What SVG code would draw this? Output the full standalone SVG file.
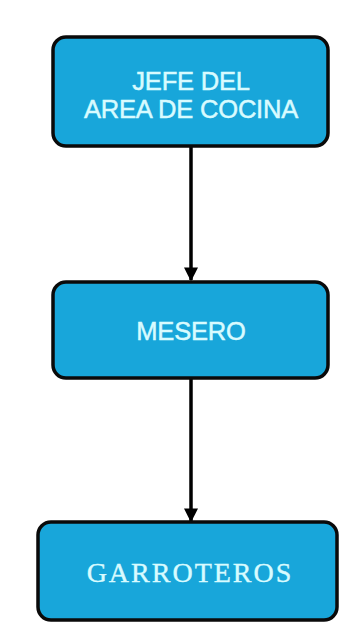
<svg xmlns="http://www.w3.org/2000/svg" width="341" height="641" viewBox="0 0 341 641">
<style>
.box{fill:#18a6da;stroke:#0a0a0a;stroke-width:3.5}
.t{fill:#d8fbff;stroke:#d8fbff;stroke-width:0.5;font-family:"Liberation Sans",Arial,sans-serif;font-size:25.5px;text-anchor:middle;letter-spacing:-0.2px}
.ts{fill:#d8fbff;stroke:#d8fbff;stroke-width:0.4;font-family:"Liberation Serif","Times New Roman",serif;font-size:28px;text-anchor:middle;letter-spacing:2px}
.c{stroke:#000;stroke-width:3.5;fill:none}
</style>
<defs>
<marker id="ah" markerWidth="4" markerHeight="4" refX="3.6" refY="2" orient="auto" markerUnits="strokeWidth">
<path d="M0,0 L4,2 L0,4 Z" fill="#000"/>
</marker>
</defs>
<rect width="341" height="641" fill="#fff"/>
<g id="connectors">
<line class="c" x1="191" y1="147" x2="191" y2="280" marker-end="url(#ah)"/>
<line class="c" x1="191" y1="379" x2="191" y2="521" marker-end="url(#ah)"/>
</g>
<g id="jefe">
<rect class="box" x="53" y="37" width="275" height="109" rx="13"/>
<text class="t" x="191" y="90">JEFE DEL</text>
<text class="t" x="191" y="118">AREA DE COCINA</text>
</g>
<g id="mesero">
<rect class="box" x="53" y="282" width="275" height="96" rx="13"/>
<text class="t" x="191" y="340">MESERO</text>
</g>
<g id="garroteros">
<rect class="box" x="38" y="522" width="299" height="98" rx="13"/>
<text class="ts" x="190" y="582">GARROTEROS</text>
</g>
</svg>
